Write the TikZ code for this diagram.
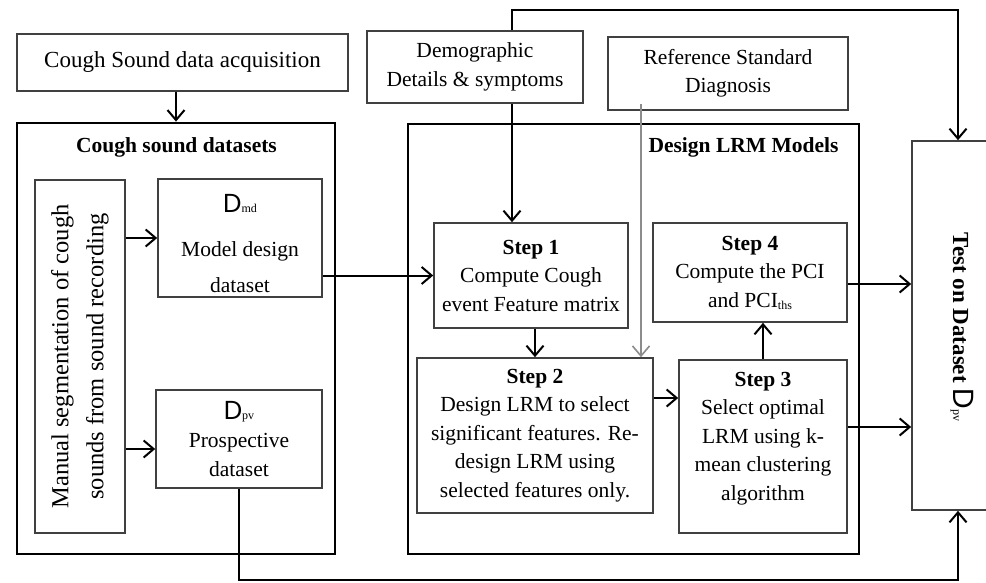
\documentclass[tikz,border=0pt]{standalone}
\usepackage{fontspec}
\setmainfont{Liberation Serif}
\newfontfamily\dfont{Poppins}
\usetikzlibrary{arrows.meta,calc}
\newcommand\subf[1]{{\fontsize{12}{12}\selectfont #1}}
\newcommand\bigD{{\dfont\fontsize{26}{26}\selectfont D}}
\begin{document}
\begin{tikzpicture}[x=1pt,y=-1pt,
  font=\fontsize{21.5}{28.5}\selectfont,
  box/.style={draw=black!75, line width=1.6pt, align=center, inner sep=0pt},
  outer/.style={draw=black, line width=2.8pt, inner sep=0pt},
  arr/.style={draw=black, line width=2pt, -{Straight Barb[length=10pt,width=17pt]}},
  grayarr/.style={draw=black!45, line width=1.6pt, -{Straight Barb[length=10pt,width=17pt]}},
  titletext/.style={font=\fontsize{21.5}{26}\selectfont\bfseries}
]
\fill[white] (0,0) rectangle (986,583);
\useasboundingbox (0,0) rectangle (986,583);

% top boxes
\node[box, minimum width=331pt, minimum height=57pt, font=\fontsize{23}{28}\selectfont] (acq) at (182.5,62.5) {Cough Sound data acquisition};
\node[box, minimum width=216pt, minimum height=72pt] (demo) at (475,67) {Demographic\\Details \& symptoms};
\node[box, minimum width=240pt, minimum height=73pt] (ref) at (728,73.5) {Reference Standard\\Diagnosis};

% cough sound datasets
\node[outer, minimum width=318pt, minimum height=431pt] (csd) at (176,338.5) {};
\node[titletext] (csdt) at (176.5,147) {Cough sound datasets};
\node[box, minimum width=90pt, minimum height=353pt] (manual) at (80,356.5) {};
\node[rotate=90, align=center, font=\fontsize{24.5}{35}\selectfont] (manualt) at (manual.center) {Manual segmentation of cough\\sounds from sound recording};
\node[box, minimum width=164pt, minimum height=118pt] (dmd) at (240,238) {};
\node[align=center, inner sep=0pt] (dmdt) at ($(dmd.center)+(0,6)$) {\bigD\subf{md}\\[15pt]Model design\\[8pt]dataset};
\node[box, minimum width=166pt, minimum height=98pt] (dpv) at (239,439) {\bigD\subf{pv}\\Prospective\\dataset};

% design LRM models
\node[outer, minimum width=451pt, minimum height=430pt] (lrm) at (633.5,339) {};
\node[titletext] (lrmt) at (743.5,147) {Design LRM Models};
\node[box, minimum width=194pt, minimum height=105pt] (s1) at (531,275.5) {\textbf{Step 1}\\Compute Cough\\event Feature matrix};
\node[box, minimum width=194pt, minimum height=99pt] (s4) at (750,272.5) {\textbf{Step 4}\\Compute the PCI\\and PCI\raisebox{-2pt}{\subf{ths}}};
\node[box, minimum width=236pt, minimum height=155pt] (s2) at (535,435.5) {\textbf{Step 2}\\Design LRM to select\\significant features. Re-\\design LRM using\\selected features only.};
\node[box, minimum width=168pt, minimum height=173pt] (s3) at (763,446.5) {\textbf{Step 3}\\Select optimal\\LRM using k-\\mean clustering\\algorithm\\[-8pt]\mbox{}};

% test box (cut by the right edge)
\begin{scope}
\clip (0,0) rectangle (986,583);
\node[box, minimum width=92pt, minimum height=369pt] (test) at (958,325.5) {};
\end{scope}
\node[rotate=-90, font=\fontsize{23}{28}\selectfont] (testt) at (962,327) {\textbf{Test on Dataset }{\dfont\fontsize{29}{29}\selectfont D}\subf{pv}};

% connectors
\coordinate (dx) at (512,0);
\coordinate (gx) at (641,0);
\draw[arr] (acq.south -| csd.north) -- (csd.north);
\draw[arr] (manual.east |- dmd.west) -- (dmd.west);
\draw[arr] ($(manual.east |- dpv.west)+(0,10)$) -- ($(dpv.west)+(0,10)$);
\draw[arr] (dmd.east |- s1.west) -- (s1.west);
\draw[arr] (dpv.south) |- ($(test.south)+(0,69)$) -- (test.south);
\draw[arr] (demo.north -| dx) |- ($(test.north)+(0,-130)$) -- (test.north);
\draw[arr] (demo.south -| dx) -- (s1.north -| dx);
\draw[grayarr] ($(ref.south -| gx)+(0,-7)$) -- (s2.north -| gx);
\draw[arr] (s1.south -| s2.north) -- (s2.north);
\draw[arr] ($(s2.east)+(0,-37.5)$) -- ($(s3.west |- s2.east)+(0,-37.5)$);
\draw[arr] (s3.north) -- (s3.north |- s4.south);
\draw[arr] ($(s4.east)+(0,11.5)$) -- ($(test.west |- s4.east)+(0,11.5)$);
\draw[arr] ($(s3.east)+(0,-19.5)$) -- ($(test.west |- s3.east)+(0,-19.5)$);
\end{tikzpicture}
\end{document}
